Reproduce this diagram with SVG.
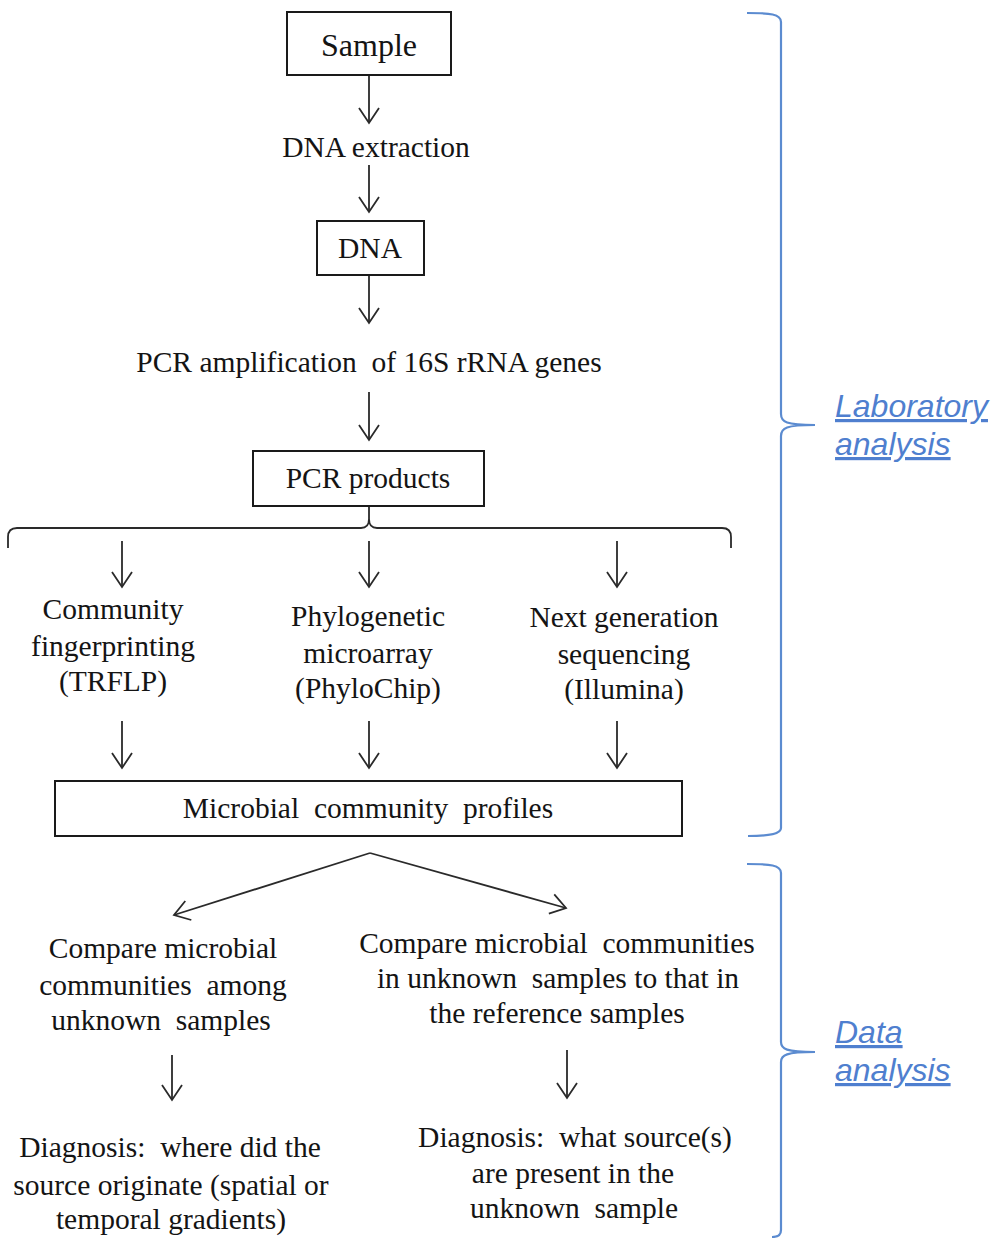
<svg xmlns="http://www.w3.org/2000/svg" width="994" height="1238" viewBox="0 0 994 1238">
<style>
.t{font-family:"Liberation Serif","Times New Roman",serif;font-size:29.5px;fill:#141414;text-anchor:middle}
.box{fill:#fff;stroke:#1a1a1a;stroke-width:2}
.ln{fill:none;stroke:#2a2a2a;stroke-width:1.8}
.br{fill:none;stroke:#5b8bd0;stroke-width:2.2}
.lb{font-family:"Liberation Sans",Arial,sans-serif;font-size:32px;font-style:italic;fill:#4f7fcf;text-decoration:underline}
</style>
<defs>
<marker id="ah" markerUnits="userSpaceOnUse" viewBox="0 0 20 24" refX="18" refY="12" markerWidth="20" markerHeight="24" orient="auto">
<path d="M 3 2 L 18 12 L 3 22" fill="none" stroke="#2a2a2a" stroke-width="1.8"/>
</marker>
</defs>
<rect width="994" height="1238" fill="#fff"/>
<g id="connectors">
<line class="ln" x1="369" y1="75" x2="369" y2="123" marker-end="url(#ah)"/>
<line class="ln" x1="369" y1="165" x2="369" y2="212" marker-end="url(#ah)"/>
<line class="ln" x1="369" y1="275" x2="369" y2="323" marker-end="url(#ah)"/>
<line class="ln" x1="369" y1="392" x2="369" y2="440" marker-end="url(#ah)"/>
<path class="ln" d="M 369 506 L 369 519 Q 369 528 377 528 L 722 528 Q 731 528 731 537 L 731 548 M 369 519 Q 369 528 361 528 L 17 528 Q 8 528 8 537 L 8 548"/>
<line class="ln" x1="122" y1="541" x2="122" y2="587" marker-end="url(#ah)"/>
<line class="ln" x1="369" y1="541" x2="369" y2="587" marker-end="url(#ah)"/>
<line class="ln" x1="617" y1="541" x2="617" y2="587" marker-end="url(#ah)"/>
<line class="ln" x1="122" y1="721" x2="122" y2="768" marker-end="url(#ah)"/>
<line class="ln" x1="369" y1="721" x2="369" y2="768" marker-end="url(#ah)"/>
<line class="ln" x1="617" y1="721" x2="617" y2="768" marker-end="url(#ah)"/>
<line class="ln" x1="370" y1="853" x2="174" y2="915" marker-end="url(#ah)"/>
<line class="ln" x1="370" y1="853" x2="566" y2="908" marker-end="url(#ah)"/>
<line class="ln" x1="172" y1="1055" x2="172" y2="1100" marker-end="url(#ah)"/>
<line class="ln" x1="567" y1="1050" x2="567" y2="1098" marker-end="url(#ah)"/>
</g>
<g id="sample"><rect class="box" x="287" y="12" width="164" height="63"/><text class="t" x="369" y="56" style="font-size:32px">Sample</text></g>
<g id="dna-extraction"><text class="t" x="376" y="157">DNA extraction</text></g>
<g id="dna"><rect class="box" x="317" y="221" width="107" height="54"/><text class="t" x="370" y="258">DNA</text></g>
<g id="pcr-amplification"><text class="t" x="369" y="372" xml:space="preserve">PCR amplification  of 16S rRNA genes</text></g>
<g id="pcr-products"><rect class="box" x="253" y="451" width="231" height="55"/><text class="t" x="368" y="488">PCR products</text></g>
<g id="trflp"><text class="t" x="113"><tspan x="113" y="619">Community</tspan><tspan x="113" y="656">fingerprinting</tspan><tspan x="113" y="691">(TRFLP)</tspan></text></g>
<g id="phylochip"><text class="t" x="368"><tspan x="368" y="626">Phylogenetic</tspan><tspan x="368" y="663">microarray</tspan><tspan x="368" y="698">(PhyloChip)</tspan></text></g>
<g id="illumina"><text class="t" x="624"><tspan x="624" y="627">Next generation</tspan><tspan x="624" y="664">sequencing</tspan><tspan x="624" y="699">(Illumina)</tspan></text></g>
<g id="profiles"><rect class="box" x="55" y="781" width="627" height="55"/><text class="t" x="368" y="818" xml:space="preserve">Microbial  community  profiles</text></g>
<g id="compare-unknown"><text class="t" xml:space="preserve"><tspan x="163" y="958">Compare microbial</tspan><tspan x="163" y="995">communities  among</tspan><tspan x="161" y="1030">unknown  samples</tspan></text></g>
<g id="compare-reference"><text class="t" xml:space="preserve"><tspan x="557" y="953">Compare microbial  communities</tspan><tspan x="558" y="988">in unknown  samples to that in</tspan><tspan x="557" y="1023">the reference samples</tspan></text></g>
<g id="diagnosis-origin"><text class="t" xml:space="preserve"><tspan x="170" y="1157">Diagnosis:  where did the</tspan><tspan x="171" y="1195">source originate (spatial or</tspan><tspan x="171" y="1229">temporal gradients)</tspan></text></g>
<g id="diagnosis-source"><text class="t" xml:space="preserve"><tspan x="575" y="1147">Diagnosis:  what source(s)</tspan><tspan x="573" y="1183">are present in the</tspan><tspan x="574" y="1218">unknown  sample</tspan></text></g>
<g id="lab-bracket">
<path class="br" d="M 747 13 C 770 13 781 14 781 22 L 781 414 C 781 422 786 425 815 425 C 786 425 781 428 781 436 L 781 828 C 781 834 770 836 748 836"/>
<text class="lb" x="835" y="417">Laboratory</text>
<text class="lb" x="835" y="455">analysis</text>
</g>
<g id="data-bracket">
<path class="br" d="M 747 864 C 770 864 781 865 781 873 L 781 1042 C 781 1049 786 1052 815 1052 C 786 1052 781 1055 781 1062 L 781 1230 C 781 1236 777 1237 772 1237"/>
<text class="lb" x="835" y="1043">Data</text>
<text class="lb" x="835" y="1081">analysis</text>
</g>
</svg>
